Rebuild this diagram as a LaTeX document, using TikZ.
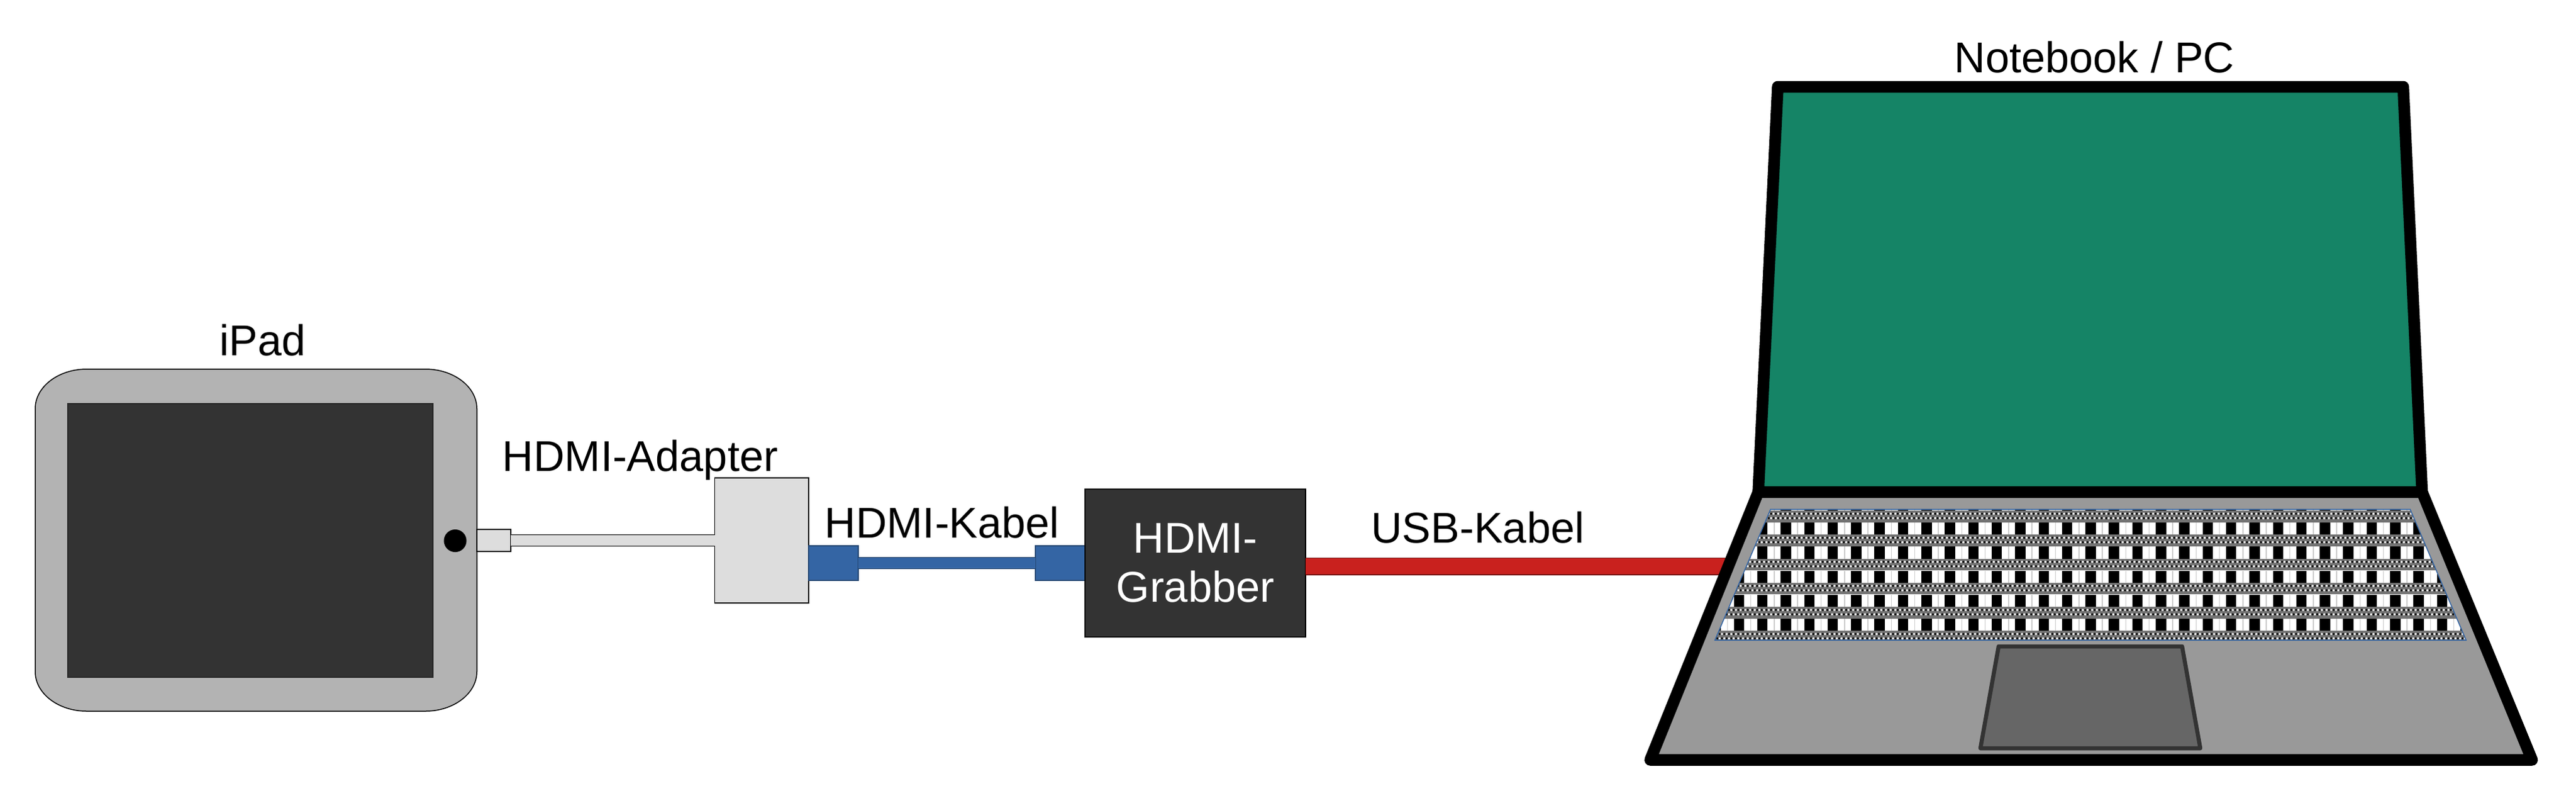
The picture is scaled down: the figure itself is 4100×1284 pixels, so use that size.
\documentclass[tikz,border=0pt]{standalone}
\usepackage{fontspec}
\setmainfont{Liberation Sans}
\definecolor{bodygrey}{HTML}{B3B3B3}
\definecolor{darkfill}{HTML}{333333}
\definecolor{lightfill}{HTML}{DDDDDD}
\definecolor{hdmiblue}{HTML}{3465A4}
\definecolor{usbred}{HTML}{C9211E}
\definecolor{screengreen}{HTML}{158466}
\definecolor{basegrey}{HTML}{999999}
\definecolor{padgrey}{HTML}{666666}
\tikzset{
  thinline/.style={line width=0.015cm},
  label/.style={font=\fontsize{19.5pt}{22.2pt}\selectfont, text=black, anchor=base, inner sep=0pt, outer sep=0pt},
  boxnode/.style={rectangle, inner sep=0pt, outer sep=0pt, thinline},
  greybox/.style={boxnode, draw=black, fill=lightfill},
  bluebox/.style={boxnode, draw=hdmiblue!70!black, fill=hdmiblue},
  cable/.style={line width=0.015cm, double distance=#1},
  laptopline/.style={line width=0.185cm, line join=round, draw=black},
}
\begin{document}
\begin{tikzpicture}[x=0.01cm, y=-0.01cm]
\useasboundingbox (0,0) rectangle (4100,1284);
% iPad
\draw[thinline, fill=bodygrey, draw=black]
  (138,587) -- (677,587) .. controls (722,587) and (759,615) .. (759,650)
  -- (759,1068) .. controls (759,1103) and (722,1131) .. (677,1131)
  -- (138,1131) .. controls (93,1131) and (56,1103) .. (56,1068)
  -- (56,650) .. controls (56,615) and (93,587) .. (138,587) -- cycle;
\node[boxnode, draw=black!85, fill=darkfill, minimum width=5.81cm, minimum height=4.35cm] (ipadscreen) at (398.5,859.5) {};
\node[circle, fill=black, inner sep=0pt, outer sep=0pt, minimum size=0.36cm] (homebutton) at (724.5,860) {};
% Adapter
\node[greybox, minimum width=0.537cm, minimum height=0.353cm] (plug) at (786,859.5) {};
\node[greybox, minimum width=1.493cm, minimum height=1.99cm] (adapter) at (1212.3,859.5) {};
\draw[cable=0.165cm, draw=black, double=lightfill] (plug.east) -- (adapter.west |- plug.east);
% HDMI cable
\node[bluebox, minimum width=0.785cm, minimum height=0.55cm] (plugleft) at (1326.5,895.5) {};
\node[bluebox, minimum width=0.79cm, minimum height=0.55cm] (plugright) at (1687.5,895.5) {};
\draw[cable=0.165cm, draw=hdmiblue!60!black, double=hdmiblue] (plugleft.east) -- (plugright.west);
% Grabber
\node[boxnode, draw=black, fill=darkfill, minimum width=3.51cm, minimum height=2.35cm, text=white,
  font=\fontsize{19.5pt}{22.2pt}\selectfont, align=center] (grabber) at (1902.5,895.5) {HDMI-\\Grabber};
% USB cable
\coordinate (usbend) at (2760,900.5);
\draw[cable=0.25cm, draw=usbred!60!black, double=usbred] (grabber.east |- usbend) -- (usbend);
% Laptop base
\coordinate (baseTL) at (2798.5,782.5);
\coordinate (baseTR) at (3855,782.5);
\coordinate (baseBR) at (4030,1208.5);
\coordinate (baseBL) at (2626.5,1208.5);
\draw[laptopline, fill=basegrey] (baseTL) -- (baseTR) -- (baseBR) -- (baseBL) -- cycle;
% Laptop screen
\coordinate (scrTL) at (2829.5,138);
\coordinate (scrTR) at (3825,138);
\draw[laptopline, fill=screengreen] (scrTL) -- (scrTR) -- (baseTR) -- (baseTL) -- cycle;
% Keyboard
\begin{scope}
  \clip (2818,810) -- (3836,810) -- (3925,1018) -- (2729.5,1018) -- cycle;
  \fill[white] (2700,805) rectangle (3950,1020);
  \foreach \r in {-1,...,4} {
    \foreach \k in {-8,...,24} {
      \fill[black] (3020.7+\k*37.3, 831+\r*38.25) rectangle (3037.2+\k*37.3, 851+\r*38.25);
      \fill[black!20] (3009.6+\k*37.3, 831+\r*38.25) rectangle (3011.1+\k*37.3, 851+\r*38.25);
    }
  }
  \foreach \b in {0,...,5} {
    \pgfmathsetmacro{\bt}{812+\b*38.25}
    \pgfmathsetmacro{\ya}{\bt+5}
    \pgfmathsetmacro{\yb}{\bt+12}
    \fill[black!55] (2700,\bt) rectangle (3950,\bt+18.5);
    \fill[black] \foreach \i in {0,...,168} {(2722+\i*7.46,\ya) circle[radius=0.019cm] (2725.73+\i*7.46,\yb) circle[radius=0.019cm]};
    \fill[white] \foreach \i in {0,...,168} {(2725.73+\i*7.46,\ya) circle[radius=0.019cm] (2722+\i*7.46,\yb) circle[radius=0.019cm]};
  }
\end{scope}
\draw[thinline, draw=hdmiblue] (2818,810) -- (3836,810) -- (3925,1018) -- (2729.5,1018) -- cycle;
% Trackpad
\draw[line width=0.065cm, line join=round, draw=darkfill, fill=padgrey]
  (3181,1028) -- (3473,1028) -- (3502,1190) -- (3152,1190) -- cycle;
% Labels
\node[label] (ipadlabel) at (418,565) {iPad};
\node[label] (adapterlabel) at (1019,749) {HDMI-Adapter};
\node[label] (hdmilabel) at (1499.5,855) {HDMI-Kabel};
\node[label] (usblabel) at (2352,863) {USB-Kabel};
\node[label] (pclabel) at (3333.5,115) {Notebook / PC};
\end{tikzpicture}
\end{document}
